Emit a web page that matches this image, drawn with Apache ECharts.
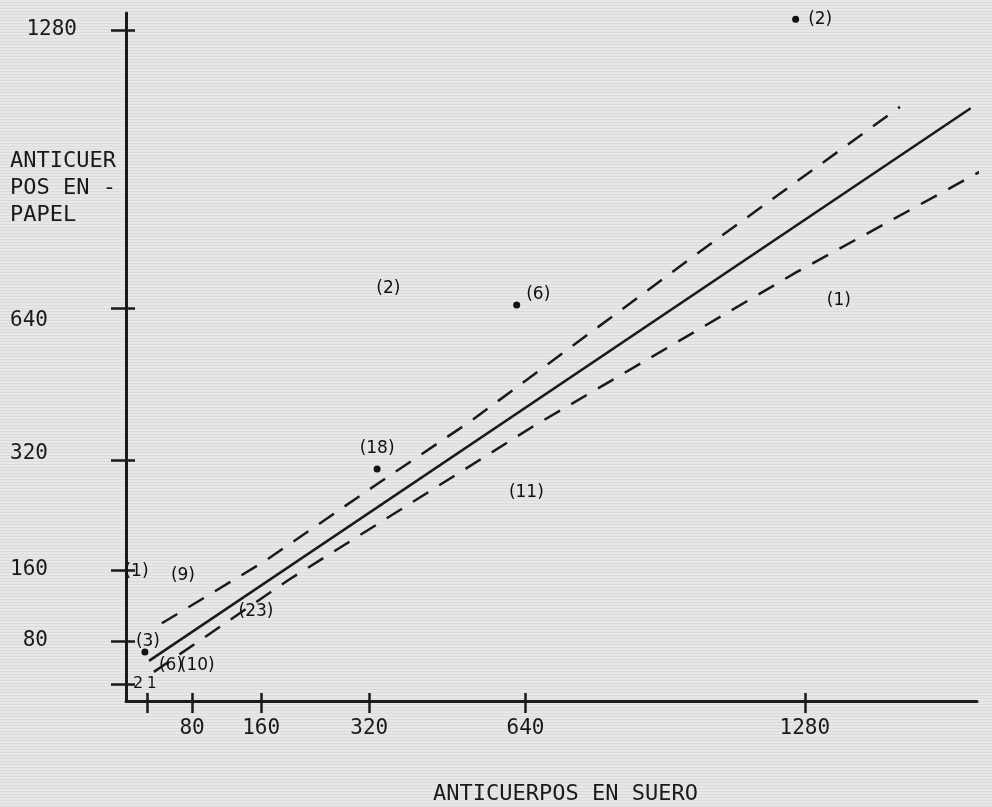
<!DOCTYPE html>
<html>
<head>
<meta charset="utf-8">
<script src="https://cdn.jsdelivr.net/npm/echarts@6.0.0/dist/echarts.min.js"></script>
<style>
  html, body { margin: 0; padding: 0; }
  body {
    width: 992px; height: 807px; overflow: hidden;
    background-color: #e2e2e2;
    background-image: repeating-linear-gradient(180deg, #e7e7e7 0px, #e7e7e7 2px, #dbdbdb 2px, #dbdbdb 3px);
  }
  #chart { width: 992px; height: 807px; }
</style>
</head>
<body>
<div id="chart"></div>
<script>
// Hand-drawn, non-uniform scale of the original: tick value -> axis units
const xStopValues = [0, 1, 80, 160, 320, 640, 1280];
const xStopUnits  = [0, 21, 66, 135, 243, 399, 678];
const yStopValues = [0, 2, 80, 160, 320, 640, 1280];
const yStopUnits  = [0, 17, 60, 131, 241, 393, 671];

const xTickValues = [1, 80, 160, 320, 640, 1280];
const yTickValues = [2, 80, 160, 320, 640, 1280];

// Observations with a plotted dot: x, y, number of animals
const dotX = [1259, 622, 336, 0.9];
const dotY = [1305, 647, 307, 60];
const dotN = [2, 6, 18, 3];

// Observations marked only by their count label
const noteX = [359, 1358, 642, 0.5, 64, 154, 43, 86];
const noteY = [684, 658, 272, 158, 154, 113, 36, 35];
const noteN = [2, 1, 11, 1, 9, 23, 6, 10];

// Regression line and its confidence band
const fitX = [4.5, 1660];
const fitY = [44, 1100];
const upperX = [27, 164, 334, 531, 1067, 1498];
const upperY = [100, 172, 284, 404, 790, 1103];
const lowerX = [13, 201, 656, 1262, 1709];
const lowerY = [24, 149, 390, 723, 969];

function toUnits(values, units, v) {
  const n = values.length;
  for (let i = 1; i < n; i++) {
    if (v <= values[i]) {
      const t = (v - values[i - 1]) / (values[i] - values[i - 1]);
      return units[i - 1] + t * (units[i] - units[i - 1]);
    }
  }
  const t = (v - values[n - 2]) / (values[n - 1] - values[n - 2]);
  return units[n - 2] + t * (units[n - 1] - units[n - 2]);
}
const ux = v => toUnits(xStopValues, xStopUnits, v);
const uy = v => toUnits(yStopValues, yStopUnits, v);
const xLabelOf = u => String(xStopValues[xStopUnits.indexOf(u)]);
const yLabelOf = u => String(yStopValues[yStopUnits.indexOf(u)]);

const INK = '#1a1a1a';
const PEN = '#111111';
const MONO = 'DejaVu Sans Mono';
const HAND = 'DejaVu Sans';

const dotLabelStyle = [
  { position: 'right', distance: 9, offset: [0, 0] },
  { position: 'right', distance: 6, offset: [0, -10] },
  { position: 'top', distance: 8, offset: [0, 0] },
  { position: 'top', distance: -2, offset: [3, 0] }
];

const dotData = dotX.map((x, i) => ({
  value: [ux(x), uy(dotY[i])],
  name: '(' + dotN[i] + ')',
  label: dotLabelStyle[i]
}));
const noteData = noteX.map((x, i) => ({
  value: [ux(x), uy(noteY[i])],
  name: '(' + noteN[i] + ')'
}));
const toLine = (xs, ys) => xs.map((x, i) => [ux(x), uy(ys[i])]);

const xTickUnits = xTickValues.map(ux);
const yTickUnits = yTickValues.map(uy);

const xMax = 850, yMax = 688;

const chart = echarts.init(document.getElementById('chart'), null, { renderer: 'canvas' });
chart.setOption({
  backgroundColor: 'transparent',
  animation: false,
  title: [
    {
      text: 'ANTICUERPOS EN SUERO', left: 433, top: 783, padding: 0,
      textStyle: { fontFamily: MONO, fontSize: 22, fontWeight: 'normal', color: INK }
    },
    {
      text: 'ANTICUER\nPOS EN -\nPAPEL', left: 10, top: 148, padding: 0,
      textStyle: { fontFamily: MONO, fontSize: 22, fontWeight: 'normal', color: INK, lineHeight: 27 }
    }
  ],
  grid: { left: 126, right: 15, top: 13, bottom: 106, outerBoundsMode: 'none' },
  xAxis: [
    {
      type: 'value', min: 0, max: xMax, position: 'bottom',
      splitLine: { show: false },
      axisLine: { show: true, lineStyle: { color: INK, width: 3 } },
      axisTick: { show: true, customValues: xTickUnits, length: 12, inside: false, lineStyle: { color: INK, width: 2.5 } },
      axisLabel: {
        show: true, customValues: xTickUnits.slice(1), margin: 17,
        fontFamily: MONO, fontSize: 21, color: INK, formatter: xLabelOf
      }
    },
    {
      type: 'value', min: 0, max: xMax, position: 'bottom', offset: 0,
      splitLine: { show: false },
      axisLine: { show: false },
      axisTick: { show: true, customValues: xTickUnits, length: 8, inside: true, lineStyle: { color: INK, width: 2.5 } },
      axisLabel: {
        show: true, inside: true, customValues: [xTickUnits[0]], margin: 9, align: 'left',
        fontFamily: HAND, fontSize: 15, color: PEN, formatter: xLabelOf
      }
    }
  ],
  yAxis: [
    {
      type: 'value', min: 0, max: yMax, position: 'left',
      splitLine: { show: false },
      axisLine: { show: true, lineStyle: { color: INK, width: 3 } },
      axisTick: { show: true, customValues: yTickUnits, length: 15, inside: false, lineStyle: { color: INK, width: 2.5 } },
      axisLabel: {
        show: true, customValues: yTickUnits.slice(1, 5), margin: 78,
        fontFamily: MONO, fontSize: 21, color: INK,
        formatter: u => {
          const s = yLabelOf(u);
          if (s === '640') return '{dn|' + s + '}';
          if (s === '320') return '{up|' + s + '}';
          return '{n|' + s + '}';
        },
        rich: {
          n: { fontFamily: MONO, fontSize: 21, color: INK },
          dn: { fontFamily: MONO, fontSize: 21, color: INK, padding: [26, 0, 0, 0] },
          up: { fontFamily: MONO, fontSize: 21, color: INK, padding: [0, 0, 12, 0] }
        }
      }
    },
    {
      type: 'value', min: 0, max: yMax, position: 'left', offset: 0,
      splitLine: { show: false },
      axisLine: { show: false },
      axisTick: { show: true, customValues: yTickUnits, length: 9, inside: true, lineStyle: { color: INK, width: 2.5 } },
      axisLabel: {
        show: true, inside: true, customValues: [yTickUnits[0]], margin: 7,
        fontFamily: HAND, fontSize: 16, color: PEN, formatter: yLabelOf
      }
    },
    {
      type: 'value', min: 0, max: yMax, position: 'left', offset: 0,
      splitLine: { show: false },
      axisLine: { show: false },
      axisTick: { show: false },
      axisLabel: {
        show: true, customValues: [yTickUnits[5]], margin: 49,
        fontFamily: MONO, fontSize: 21, color: INK, formatter: yLabelOf
      }
    }
  ],
  series: [
    {
      name: 'Regresión', type: 'line', data: toLine(fitX, fitY),
      showSymbol: false, symbol: 'none', clip: false, silent: true,
      lineStyle: { color: INK, width: 2.5 }
    },
    {
      name: 'Límite superior', type: 'line', data: toLine(upperX, upperY),
      showSymbol: false, symbol: 'none', clip: false, silent: true,
      lineStyle: { color: INK, width: 2.5, type: [18, 13] }
    },
    {
      name: 'Límite inferior', type: 'line', data: toLine(lowerX, lowerY),
      showSymbol: false, symbol: 'none', clip: false, silent: true,
      lineStyle: { color: INK, width: 2.5, type: [18, 13] }
    },
    {
      name: 'Granjas', type: 'scatter', data: dotData, symbolSize: 7, clip: false,
      itemStyle: { color: PEN, opacity: 1 },
      label: { show: true, formatter: p => p.name, fontFamily: HAND, fontSize: 17, color: PEN, opacity: 1 }
    },
    {
      name: 'Granjas (n)', type: 'scatter', data: noteData, symbolSize: 1, clip: false,
      itemStyle: { color: 'rgba(0,0,0,0)', opacity: 1 },
      label: { show: true, position: 'inside', formatter: p => p.name, fontFamily: HAND, fontSize: 17, color: PEN, opacity: 1 }
    }
  ]
});
</script>
</body>
</html>
